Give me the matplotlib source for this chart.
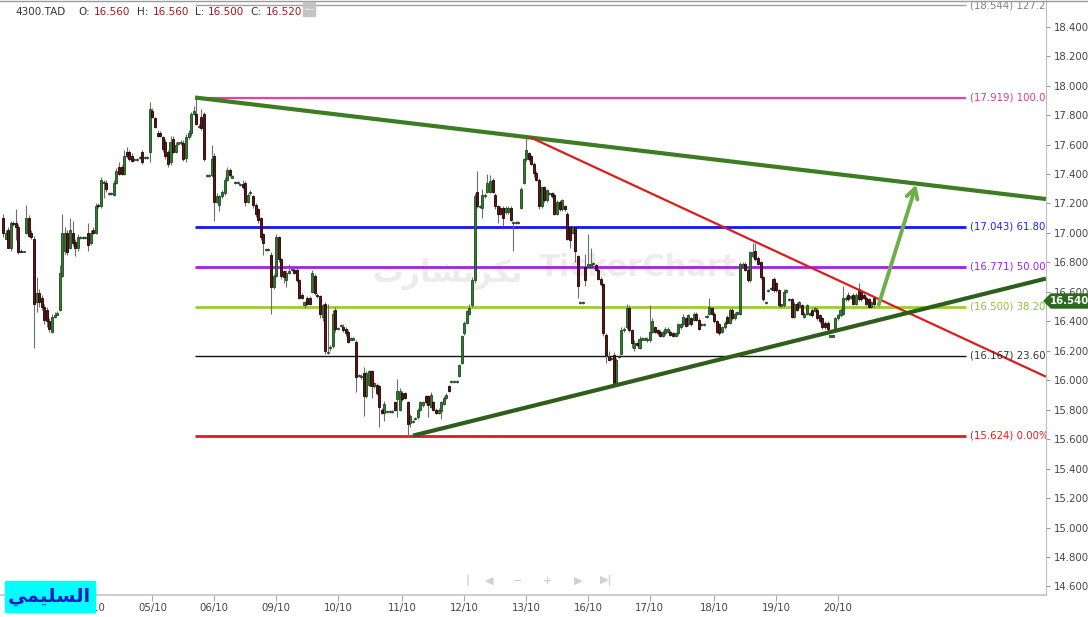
import matplotlib.pyplot as plt
import numpy as np
from matplotlib.patches import Polygon, Rectangle
from matplotlib.ticker import MultipleLocator, FormatStrFormatter

# ---------------- data (15-min candles, 4300.TAD) ----------------
opens = [
    17.10, 16.96, 17.02, 16.90, 17.07, 17.07, 17.04, 16.88, 16.87, 17.00,
    17.10, 17.00, 16.96, 16.53, 16.59, 16.56, 16.50, 16.48, 16.40, 16.33,
    16.43, 16.45, 16.48, 16.71, 16.88, 17.00, 16.90, 17.00, 16.94, 16.90,
    16.97, 16.97, 16.97, 17.00, 16.93, 17.02, 17.00, 17.19, 17.18, 17.34, 17.34,
    17.27, 17.27, 17.26, 17.34, 17.45, 17.45, 17.40, 17.55, 17.55, 17.52, 17.50, 17.50,
    17.51, 17.55, 17.51, 17.51, 17.55, 17.83, 17.78, 17.68, 17.68, 17.65,
    17.62, 17.55, 17.48, 17.64, 17.55, 17.61, 17.61, 17.61, 17.51, 17.65,
    17.68, 17.81, 17.81, 17.72, 17.79, 17.81, 17.39, 17.39, 17.39, 17.52,
    17.21, 17.19, 17.25, 17.27, 17.36, 17.43, 17.38, 17.34, 17.34, 17.33,
    17.33, 17.34, 17.21, 17.27, 17.25, 17.19, 17.16, 17.10, 16.99, 16.89, 16.89,
    16.85, 16.63, 16.71, 16.97, 16.82, 16.74, 16.68, 16.73, 16.75, 16.75,
    16.75, 16.68, 16.58, 16.51, 16.56, 16.56, 16.60, 16.71, 16.58, 16.57,
    16.43, 16.52, 16.19, 16.22, 16.23, 16.48, 16.35, 16.37, 16.36, 16.35, 16.33,
    16.28, 16.28, 16.26, 16.03, 16.02, 16.05, 15.89, 15.97, 16.06, 15.96, 15.97,
    15.96, 15.80, 15.78, 15.79, 15.79, 15.79, 15.85, 15.87, 15.80, 15.91,
    15.91, 15.85, 15.71, 15.72, 15.74, 15.75, 15.80, 15.83, 15.89, 15.89,
    15.82, 15.85, 15.80, 15.78, 15.79, 15.84, 15.88, 15.96, 15.99, 15.99,
    15.99, 16.03, 16.12, 16.32, 16.39, 16.45, 16.51, 16.68, 17.28, 17.18,
    17.17, 17.25, 17.28, 17.28, 17.36, 17.26, 17.18, 17.17, 17.17, 17.14,
    17.14, 17.17, 17.07, 17.07, 17.07, 17.17, 17.34, 17.50, 17.54, 17.52,
    17.47, 17.41, 17.36, 17.18, 17.31, 17.22, 17.27, 17.27, 17.26, 17.13,
    17.21, 17.16, 17.18, 17.13, 17.04, 17.00, 17.04, 16.84, 16.53, 16.53,
    16.77, 16.77, 16.77, 16.79, 16.78, 16.75, 16.69, 16.65, 16.31, 16.16,
    16.15, 16.17, 15.97, 16.16, 16.18, 16.34, 16.36, 16.49, 16.34, 16.22,
    16.25, 16.22, 16.28, 16.28, 16.27, 16.27, 16.33, 16.36, 16.34, 16.33,
    16.30, 16.32, 16.33, 16.33, 16.32, 16.30, 16.32, 16.36, 16.38, 16.42,
    16.38, 16.42, 16.41, 16.45, 16.41, 16.38, 16.38, 16.43, 16.45, 16.49,
    16.45, 16.40, 16.38, 16.33, 16.36, 16.43, 16.39, 16.48, 16.42, 16.45,
    16.45, 16.77, 16.79, 16.75, 16.68, 16.84, 16.88, 16.83, 16.80, 16.70,
    16.53, 16.61, 16.62, 16.69, 16.66, 16.61, 16.51, 16.51, 16.60, 16.55,
    16.55, 16.43, 16.52, 16.50, 16.51, 16.43, 16.45, 16.45, 16.48, 16.47,
    16.48, 16.44, 16.42, 16.39, 16.39, 16.30, 16.30, 16.35, 16.42, 16.44,
    16.45, 16.55, 16.58, 16.56, 16.58, 16.52, 16.62, 16.60, 16.58, 16.56,
    16.55, 16.50, 16.56,
]
closes = [
    17.00, 17.00, 16.90, 17.07, 17.06, 17.04, 16.87, 16.87, 16.88, 17.10,
    16.98, 16.97, 16.52, 16.59, 16.53, 16.50, 16.41, 16.40, 16.35, 16.43,
    16.44, 16.45, 16.73, 17.00, 17.00, 16.87, 17.02, 16.93, 16.90, 16.97,
    16.97, 16.97, 16.97, 16.92, 17.00, 17.00, 17.18, 17.18, 17.36, 17.34, 17.30,
    17.27, 17.27, 17.34, 17.42, 17.40, 17.40, 17.52, 17.52, 17.50, 17.49, 17.50, 17.50,
    17.51, 17.48, 17.51, 17.51, 17.84, 17.79, 17.72, 17.66, 17.66, 17.57,
    17.52, 17.47, 17.62, 17.55, 17.60, 17.61, 17.62, 17.50, 17.65, 17.68,
    17.81, 17.83, 17.74, 17.72, 17.71, 17.50, 17.39, 17.39, 17.50, 17.21,
    17.25, 17.25, 17.28, 17.36, 17.43, 17.39, 17.38, 17.34, 17.34, 17.33,
    17.31, 17.21, 17.26, 17.28, 17.19, 17.13, 17.09, 16.97, 16.93, 16.89, 16.89,
    16.63, 16.71, 16.97, 16.82, 16.71, 16.70, 16.73, 16.74, 16.75, 16.73,
    16.68, 16.56, 16.56, 16.53, 16.52, 16.52, 16.73, 16.59, 16.57, 16.45,
    16.51, 16.20, 16.19, 16.22, 16.45, 16.35, 16.35, 16.37, 16.34, 16.32, 16.26,
    16.28, 16.28, 16.02, 16.03, 16.03, 15.89, 16.05, 16.06, 15.96, 15.98, 15.91,
    15.82, 15.78, 15.84, 15.79, 15.79, 15.79, 15.80, 15.93, 15.93, 15.87,
    15.88, 15.70, 15.76, 15.72, 15.74, 15.80, 15.85, 15.85, 15.85, 15.83,
    15.90, 15.80, 15.78, 15.80, 15.85, 15.88, 15.90, 15.93, 15.99, 15.99,
    15.99, 16.10, 16.30, 16.39, 16.47, 16.49, 16.68, 17.25, 17.18, 17.18,
    17.26, 17.26, 17.34, 17.35, 17.28, 17.18, 17.13, 17.13, 17.10, 17.17,
    17.17, 17.09, 17.07, 17.07, 17.07, 17.30, 17.50, 17.56, 17.50, 17.47,
    17.41, 17.36, 17.18, 17.31, 17.22, 17.29, 17.27, 17.25, 17.13, 17.21,
    17.16, 17.22, 17.16, 16.96, 16.95, 17.04, 16.88, 16.64, 16.53, 16.53,
    16.68, 16.79, 16.79, 16.79, 16.75, 16.69, 16.65, 16.32, 16.17, 16.14,
    16.15, 15.98, 16.14, 16.16, 16.34, 16.35, 16.49, 16.34, 16.25, 16.25,
    16.24, 16.28, 16.28, 16.28, 16.28, 16.33, 16.40, 16.33, 16.32, 16.30,
    16.33, 16.35, 16.35, 16.31, 16.30, 16.32, 16.38, 16.38, 16.43, 16.37,
    16.44, 16.38, 16.45, 16.41, 16.35, 16.38, 16.38, 16.43, 16.50, 16.45,
    16.40, 16.33, 16.32, 16.36, 16.39, 16.39, 16.48, 16.42, 16.45, 16.46,
    16.79, 16.79, 16.75, 16.68, 16.87, 16.87, 16.82, 16.79, 16.70, 16.55,
    16.53, 16.61, 16.62, 16.61, 16.61, 16.51, 16.51, 16.60, 16.61, 16.55,
    16.43, 16.52, 16.48, 16.53, 16.45, 16.45, 16.51, 16.45, 16.44, 16.49,
    16.42, 16.40, 16.36, 16.36, 16.35, 16.30, 16.30, 16.42, 16.44, 16.48,
    16.56, 16.56, 16.55, 16.57, 16.52, 16.58, 16.55, 16.55, 16.56, 16.52,
    16.50, 16.53, 16.52,
]
highs = [
    17.13, 17.02, 17.04, 17.08, 17.08, 17.16, 17.06, 16.89, 16.88, 17.19,
    17.12, 17.02, 16.98, 16.70, 16.62, 16.58, 16.52, 16.50, 16.42, 16.45,
    16.46, 16.47, 16.78, 17.13, 17.04, 17.02, 17.10, 17.08, 16.96, 16.99,
    16.98, 16.98, 16.98, 17.07, 17.02, 17.04, 17.20, 17.20, 17.38, 17.36, 17.36,
    17.28, 17.28, 17.36, 17.44, 17.48, 17.46, 17.56, 17.58, 17.56, 17.54, 17.51, 17.51,
    17.52, 17.56, 17.52, 17.52, 17.89, 17.85, 17.79, 17.70, 17.69, 17.66,
    17.64, 17.56, 17.66, 17.66, 17.62, 17.62, 17.63, 17.63, 17.67, 17.70,
    17.82, 17.86, 17.92, 17.74, 17.84, 17.82, 17.40, 17.40, 17.60, 17.54,
    17.27, 17.26, 17.29, 17.38, 17.45, 17.44, 17.39, 17.35, 17.35, 17.34,
    17.36, 17.35, 17.27, 17.29, 17.26, 17.20, 17.17, 17.11, 17.00, 16.90, 16.90,
    16.87, 16.72, 16.99, 16.98, 16.83, 16.75, 16.75, 16.79, 16.76, 16.76,
    16.76, 16.69, 16.59, 16.54, 16.57, 16.57, 16.75, 16.72, 16.59, 16.58,
    16.52, 16.53, 16.52, 16.24, 16.48, 16.50, 16.36, 16.38, 16.38, 16.36, 16.34,
    16.29, 16.29, 16.27, 16.04, 16.04, 16.09, 16.06, 16.07, 16.07, 15.99, 15.98,
    15.97, 15.81, 15.86, 15.80, 15.80, 15.80, 15.86, 16.01, 15.95, 15.93,
    15.92, 15.86, 15.77, 15.73, 15.75, 15.81, 15.86, 15.86, 15.90, 15.90,
    15.92, 15.86, 15.81, 15.81, 15.86, 15.89, 15.91, 15.97, 16.00, 16.00,
    16.00, 16.11, 16.31, 16.40, 16.48, 16.52, 16.70, 17.27, 17.42, 17.19,
    17.30, 17.27, 17.40, 17.39, 17.37, 17.27, 17.19, 17.18, 17.18, 17.18,
    17.18, 17.18, 17.08, 17.08, 17.08, 17.31, 17.51, 17.65, 17.55, 17.53,
    17.48, 17.42, 17.37, 17.32, 17.32, 17.30, 17.28, 17.28, 17.27, 17.22,
    17.22, 17.23, 17.19, 17.14, 17.05, 17.05, 17.05, 16.85, 16.54, 16.54,
    16.86, 16.99, 16.90, 16.80, 16.79, 16.76, 16.70, 16.66, 16.32, 16.20,
    16.16, 16.19, 16.15, 16.17, 16.36, 16.36, 16.52, 16.51, 16.35, 16.27,
    16.26, 16.30, 16.29, 16.29, 16.29, 16.51, 16.42, 16.37, 16.35, 16.34,
    16.34, 16.36, 16.36, 16.34, 16.33, 16.33, 16.39, 16.39, 16.45, 16.43,
    16.45, 16.43, 16.46, 16.46, 16.42, 16.39, 16.39, 16.44, 16.56, 16.50,
    16.46, 16.41, 16.39, 16.37, 16.40, 16.44, 16.49, 16.49, 16.46, 16.47,
    16.80, 16.80, 16.80, 16.76, 16.88, 16.93, 16.93, 16.84, 16.81, 16.71,
    16.54, 16.62, 16.63, 16.70, 16.67, 16.62, 16.52, 16.62, 16.62, 16.56,
    16.56, 16.53, 16.53, 16.54, 16.52, 16.46, 16.52, 16.46, 16.49, 16.50,
    16.49, 16.45, 16.43, 16.40, 16.40, 16.31, 16.31, 16.43, 16.45, 16.49,
    16.64, 16.57, 16.60, 16.58, 16.59, 16.59, 16.66, 16.61, 16.59, 16.57,
    16.56, 16.54, 16.56,
]
lows = [
    16.97, 16.96, 16.90, 16.88, 17.05, 16.95, 16.86, 16.87, 16.87, 16.99,
    16.97, 16.96, 16.22, 16.46, 16.50, 16.48, 16.38, 16.36, 16.33, 16.32,
    16.42, 16.44, 16.47, 16.70, 16.86, 16.85, 16.89, 16.91, 16.84, 16.88,
    16.96, 16.96, 16.96, 16.88, 16.92, 16.99, 16.99, 17.17, 17.17, 17.24, 17.28,
    17.26, 17.26, 17.25, 17.33, 17.39, 17.39, 17.39, 17.51, 17.49, 17.48, 17.49, 17.49,
    17.50, 17.47, 17.50, 17.50, 17.48, 17.78, 17.71, 17.65, 17.65, 17.55,
    17.50, 17.45, 17.46, 17.54, 17.54, 17.60, 17.60, 17.49, 17.48, 17.64,
    17.66, 17.80, 17.73, 17.71, 17.70, 17.49, 17.38, 17.38, 17.38, 17.08,
    17.20, 17.15, 17.24, 17.26, 17.35, 17.38, 17.37, 17.33, 17.33, 17.32,
    17.30, 17.18, 17.20, 17.26, 17.17, 17.11, 17.07, 16.95, 16.85, 16.88, 16.88,
    16.45, 16.62, 16.70, 16.80, 16.69, 16.66, 16.63, 16.72, 16.74, 16.72,
    16.67, 16.55, 16.55, 16.49, 16.51, 16.51, 16.59, 16.58, 16.56, 16.42,
    16.40, 16.18, 16.18, 16.20, 16.22, 16.33, 16.34, 16.36, 16.33, 16.30, 16.25,
    16.27, 16.27, 15.92, 16.02, 16.01, 15.76, 15.88, 15.96, 15.88, 15.95, 15.90,
    15.68, 15.77, 15.72, 15.78, 15.78, 15.78, 15.79, 15.75, 15.79, 15.86,
    15.87, 15.62, 15.68, 15.71, 15.73, 15.74, 15.79, 15.82, 15.84, 15.75,
    15.81, 15.79, 15.77, 15.77, 15.74, 15.83, 15.87, 15.92, 15.98, 15.98,
    15.98, 16.02, 16.11, 16.31, 16.38, 16.44, 16.50, 16.66, 17.17, 17.17,
    17.10, 17.24, 17.27, 17.27, 17.27, 17.16, 17.07, 17.12, 17.05, 17.13,
    17.13, 17.08, 16.88, 17.06, 17.06, 17.16, 17.33, 17.49, 17.49, 17.46,
    17.38, 17.35, 17.16, 17.17, 17.21, 17.21, 17.26, 17.24, 17.12, 17.12,
    17.15, 17.15, 17.15, 16.95, 16.90, 16.99, 16.80, 16.56, 16.52, 16.52,
    16.64, 16.76, 16.76, 16.78, 16.74, 16.68, 16.64, 16.30, 16.12, 16.13,
    16.14, 15.96, 15.96, 16.15, 16.17, 16.33, 16.35, 16.33, 16.22, 16.20,
    16.23, 16.21, 16.27, 16.27, 16.26, 16.26, 16.32, 16.32, 16.31, 16.29,
    16.29, 16.31, 16.32, 16.30, 16.29, 16.29, 16.31, 16.35, 16.37, 16.36,
    16.37, 16.37, 16.40, 16.40, 16.34, 16.37, 16.37, 16.42, 16.44, 16.44,
    16.39, 16.32, 16.31, 16.32, 16.35, 16.38, 16.38, 16.41, 16.41, 16.44,
    16.44, 16.76, 16.74, 16.67, 16.67, 16.83, 16.81, 16.78, 16.69, 16.54,
    16.52, 16.60, 16.61, 16.60, 16.60, 16.50, 16.50, 16.50, 16.59, 16.54,
    16.42, 16.42, 16.47, 16.49, 16.44, 16.42, 16.44, 16.44, 16.43, 16.46,
    16.41, 16.39, 16.35, 16.35, 16.33, 16.29, 16.29, 16.34, 16.41, 16.43,
    16.44, 16.54, 16.54, 16.55, 16.51, 16.51, 16.54, 16.54, 16.55, 16.51,
    16.49, 16.49, 16.50,
]

day_labels = ["04/10", "05/10", "06/10", "09/10", "10/10", "11/10", "12/10",
              "13/10", "16/10", "17/10", "18/10", "19/10", "20/10"]
day_start = [34, 58, 82, 106, 130, 155, 179, 203, 227, 251, 276, 300, 324]

fib_levels = [18.544, 17.919, 17.043, 16.771, 16.500, 16.167, 15.624]
fib_pcts = ["127.20%", "100.00%", "61.80%", "50.00%", "38.20%", "23.60%", "0.00%"]

# drawn objects (bar index, price)
upper_trend = [(74.5, 17.919), (404.7, 17.23)]
red_trend = [(204.5, 17.65), (404.7, 16.024)]
lower_trend = [(159.1, 15.624), (404.7, 16.69)]
target_arrow = [(339.5, 16.495), (354.7, 17.345)]
fib_span = (74.5, 373.7)
last_price = 16.540

# ---------------- figure ----------------
W, H = 1088, 617
fig = plt.figure(figsize=(W / 100, H / 100), dpi=100)
ax = fig.add_axes([0, 22 / H, 1046 / W, 595 / H])

o = np.array(opens)
c = np.array(closes)
hi = np.array(highs)
lo = np.array(lows)
idx = np.arange(len(c))
pitch = 871 / (len(c) - 1)

ax.set_xlim(-3 / pitch, 1043 / pitch)
ax.set_ylim(14.542, 18.581)

# watermark
ax.text(0.515, 0.55, "TickerChart", transform=ax.transAxes, fontsize=22,
        fontweight="bold", color="#ececec", ha="left", va="center", zorder=0)
ax.text(0.500, 0.54, "\uFE95\uFEAD\uFE8E\uFEB8\uFE97\uFEAE\uFEDC\uFE97",
        transform=ax.transAxes, fontsize=22, fontweight="bold", color="#ececec",
        ha="right", va="center", zorder=0)

# fibonacci levels
fib_colors = ["#a0a0a0", "#e0449c", "#1414ff", "#a020f0", "#9acd32", "#111111", "#e41a1a"]
fib_text = ["#808080", "#d63c90", "#2020ff", "#a020f0", "#8cc43a", "#333333", "#e41a1a"]
fib_lw = [1.0, 1.6, 2.0, 2.0, 2.0, 1.0, 2.0]
for lev, pct, col, tcol, lw in zip(fib_levels, fib_pcts, fib_colors, fib_text, fib_lw):
    ax.hlines(lev, fib_span[0], fib_span[1], color=col, lw=lw, zorder=1)
    ax.text(fib_span[1] + 1.5, lev, f"({lev:.3f}) {pct}", color=tcol, fontsize=7.3,
            va="center", ha="left", clip_on=True, zorder=5)

# candles
wick_col = "#6e6e6e"
ax.vlines(idx, lo, hi, color=wick_col, lw=0.8, zorder=2)
up = c >= o
flat = np.abs(c - o) < 0.005
body = np.where(flat, 0.008, c - o)
bottom = np.where(flat, o - 0.004, o)
ax.bar(idx[up], body[up], bottom=bottom[up], width=0.8, color="#2f7d2f",
       edgecolor="#1c4a1c", lw=0.6, zorder=3)
ax.bar(idx[~up], body[~up], bottom=bottom[~up], width=0.8, color="#6e1010",
       edgecolor="#160404", lw=0.6, zorder=3)

# trend lines
def seg(pts, **kw):
    xs, ys = zip(*pts)
    ax.plot(xs, ys, solid_capstyle="butt", **kw)

seg(upper_trend, color="#3c7d22", lw=3, zorder=4)
seg(red_trend, color="#dd1c1c", lw=1.6, zorder=4)
seg(lower_trend, color="#2d5f1b", lw=3, zorder=4)
ax.annotate("", xy=target_arrow[1], xytext=target_arrow[0],
            arrowprops=dict(arrowstyle="->,head_length=0.7,head_width=0.4",
                            color="#6fae49", lw=2.8), zorder=4)

# axes styling
for s in ["left", "top"]:
    ax.spines[s].set_visible(False)
ax.spines["right"].set_color("#bdbdbd")
ax.spines["bottom"].set_color("#c8c8c8")
ax.spines["bottom"].set_linewidth(1.3)
ax.yaxis.tick_right()
ax.yaxis.set_major_locator(MultipleLocator(0.2))
ax.yaxis.set_major_formatter(FormatStrFormatter("%.3f"))
ax.tick_params(axis="y", length=3, color="#999999", labelcolor="#444444",
               labelsize=7.3, pad=3)
ax.set_xticks(day_start)
ax.set_xticklabels(day_labels)
ax.tick_params(axis="x", length=4, color="#aaaaaa", labelcolor="#444444",
               labelsize=7.3, pad=2)

# last price tag
def px(x, y):
    return (x / W, 1 - y / H)

tag = Polygon([px(1044, 301), px(1051, 294), px(1088, 294), px(1088, 308), px(1051, 308)],
              closed=True, transform=fig.transFigure, color="#2d6a1f", zorder=10)
fig.patches.append(tag)
fig.text(*px(1069, 301), f"{last_price:.3f}", color="white", fontsize=7.3,
         fontweight="bold", ha="center", va="center", zorder=11)

# header
fig.add_artist(plt.Line2D([0, 1], [1 - 0.5 / H, 1 - 0.5 / H], color="#9a9a9a",
                          lw=1, transform=fig.transFigure))
red_txt = "#9b1c1c"
header = [("4300.TAD", 15, "#333333"), ("O:", 78, "#333333"),
          (f"{opens[-1]:.3f}", 94, red_txt), ("H:", 137, "#333333"),
          (f"{highs[-1]:.3f}", 153, red_txt), ("L:", 195, "#333333"),
          (f"{lows[-1]:.3f}", 208, red_txt), ("C:", 250, "#333333"),
          (f"{closes[-1]:.3f}", 266, red_txt)]
for txt, x, col in header:
    fig.text(*px(x, 12), txt, color=col, fontsize=7.5, ha="left", va="center")
fig.patches.append(Rectangle(px(303, 16), 12 / W, 14 / H, transform=fig.transFigure,
                             color="#c4c4c4", zorder=10))
fig.text(*px(309, 8), "...", color="white", fontsize=6, ha="center", va="center",
         fontweight="bold", zorder=11)

# navigation icons
nav = [("|", 468), ("\u25C0", 489), ("\u2212", 518), ("+", 548), ("\u25B6", 578), ("\u25B6|", 606)]
for sym, x in nav:
    fig.text(*px(x, 581), sym, color="#d0d0d0", fontsize=8, ha="center", va="center",
             fontweight="bold")

# name box (drawn over the first date label, as in the source)
fig.patches.append(Rectangle(px(5, 612), 90 / W, 31 / H, transform=fig.transFigure,
                             color="#00ffff", zorder=10))
fig.text(*px(49, 596), "\uFEF2\uFEE4\uFEF4\uFEE0\uFEB4\uFEDF\uFE8D", color="#1a1acc",
         fontsize=14, fontweight="bold", ha="center", va="center", zorder=11)

fig.savefig("out.png", dpi=100)
